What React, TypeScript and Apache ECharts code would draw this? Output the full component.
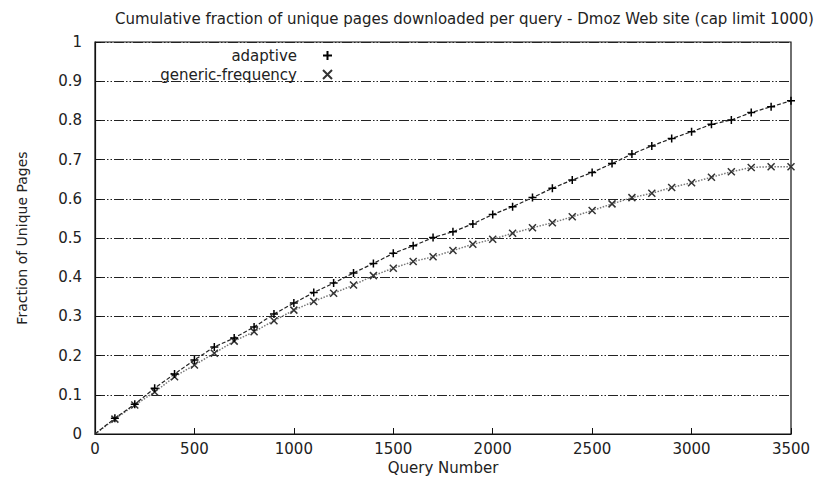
import React, { useEffect, useRef } from "react";
import * as echarts from "echarts";

const titleText =
  "Cumulative fraction of unique pages downloaded per query - Dmoz Web site (cap limit 1000)";
const xAxisName = "Query Number";
const yAxisName = "Fraction of Unique Pages";
const seriesNames = ["adaptive", "generic-frequency"];

const queries = [
  0, 100, 200, 300, 400, 500, 600, 700, 800, 900, 1000, 1100, 1200, 1300, 1400,
  1500, 1600, 1700, 1800, 1900, 2000, 2100, 2200, 2300, 2400, 2500, 2600, 2700,
  2800, 2900, 3000, 3100, 3200, 3300, 3400, 3500,
];
const adaptiveFraction = [
  0, 0.04, 0.076, 0.117, 0.153, 0.189, 0.222, 0.245, 0.273, 0.306, 0.334, 0.361,
  0.385, 0.411, 0.435, 0.461, 0.48, 0.501, 0.516, 0.536, 0.56, 0.58, 0.603,
  0.627, 0.648, 0.667, 0.69, 0.714, 0.735, 0.754, 0.771, 0.79, 0.801, 0.82,
  0.835, 0.85,
];
const genericFraction = [
  0, 0.038, 0.074, 0.107, 0.146, 0.176, 0.206, 0.237, 0.261, 0.289, 0.316,
  0.338, 0.359, 0.38, 0.404, 0.423, 0.44, 0.452, 0.468, 0.484, 0.497, 0.512,
  0.526, 0.539, 0.554, 0.57, 0.587, 0.603, 0.614, 0.629, 0.641, 0.655, 0.669,
  0.68, 0.682, 0.682,
];

const FONT = "DejaVu Sans";
const PLUS = "path://M0,5L10,5M5,0L5,10";
const CROSS = "path://M0,0L10,10M10,0L0,10";

function toData(ys: number[]) {
  return queries.map((q, i) =>
    q === 0 ? { value: [q, ys[i]], symbol: "none" } : { value: [q, ys[i]] }
  );
}

export default function App() {
  const ref = useRef<HTMLDivElement>(null);
  useEffect(() => {
    if (!ref.current) return;
    const chart = echarts.init(ref.current, undefined, { renderer: "svg" });
    const legendBase = {
      orient: "horizontal",
      align: "right",
      right: 482,
      padding: 0,
      itemWidth: 9,
      itemHeight: 9,
      textStyle: {
        fontFamily: FONT,
        fontSize: 15,
        lineHeight: 15,
        color: "#222",
        padding: [0, 21, 0, 0],
      },
      selectedMode: false,
    };
    chart.setOption({
      animation: false,
      backgroundColor: "#fff",
      title: {
        text: titleText,
        left: 110,
        top: 6,
        textStyle: {
          fontFamily: FONT,
          fontSize: 15,
          fontWeight: "normal",
          color: "#222",
        },
      },
      legend: [
        { ...legendBase, top: 48, data: [{ name: seriesNames[0], icon: PLUS }] },
        { ...legendBase, top: 67, data: [{ name: seriesNames[1], icon: CROSS }] },
      ],
      grid: {
        left: 95,
        right: 24,
        top: 42,
        bottom: 47,
        show: true,
        borderColor: "#111",
        borderWidth: 1.2,
        backgroundColor: "transparent",
      },
      xAxis: {
        type: "value",
        min: 0,
        max: 3500,
        interval: 500,
        name: xAxisName,
        nameLocation: "middle",
        nameGap: 25,
        nameTextStyle: { fontFamily: FONT, fontSize: 15, color: "#222" },
        axisLine: { show: true, lineStyle: { color: "#111", width: 1.2 } },
        axisTick: { show: true, inside: true, length: 6, lineStyle: { color: "#111" } },
        axisLabel: {
          fontFamily: FONT,
          fontSize: 15,
          color: "#222",
          margin: 7,
          formatter: (v: number) => String(v),
        },
        splitLine: { show: false },
      },
      yAxis: {
        type: "value",
        min: 0,
        max: 1,
        interval: 0.1,
        name: yAxisName,
        nameLocation: "middle",
        nameGap: 66,
        nameTextStyle: { fontFamily: FONT, fontSize: 14, color: "#222" },
        axisLine: { show: true, lineStyle: { color: "#111", width: 1.2 } },
        axisTick: { show: true, inside: true, length: 6, lineStyle: { color: "#111" } },
        axisLabel: {
          fontFamily: FONT,
          fontSize: 15,
          color: "#222",
          margin: 13,
          formatter: (v: number) => String(Math.round(v * 10) / 10),
        },
        splitLine: {
          show: true,
          lineStyle: { color: "#222", width: 1.2, type: [10, 2, 1.5, 2, 1.5, 2] },
        },
      },
      series: [
        {
          name: seriesNames[0],
          type: "line",
          data: toData(adaptiveFraction),
          symbol: PLUS,
          symbolSize: 8,
          itemStyle: { color: "#000", borderColor: "#000", borderWidth: 1.5 },
          lineStyle: { color: "#222", width: 1.2, type: [4, 2] },
          z: 3,
        },
        {
          name: seriesNames[1],
          type: "line",
          data: toData(genericFraction),
          symbol: CROSS,
          symbolSize: 7,
          itemStyle: { color: "#333", borderColor: "#333", borderWidth: 1.5 },
          lineStyle: { color: "#777", width: 1.5, type: [1.5, 1.5] },
          z: 2,
        },
      ],
    });
    return () => chart.dispose();
  }, []);
  return (
    <div
      ref={ref}
      style={{ position: "fixed", left: 0, top: 0, width: 815, height: 481 }}
    />
  );
}
